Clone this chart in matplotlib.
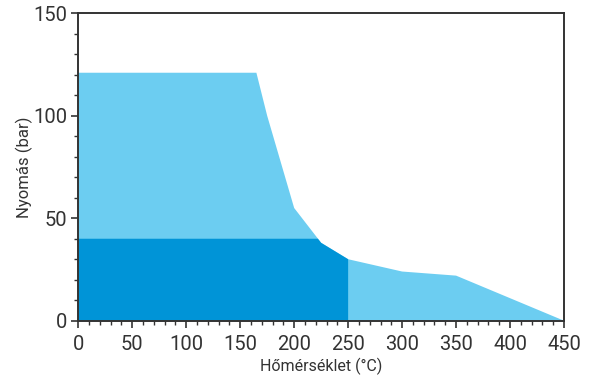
import matplotlib
matplotlib.use("Agg")
import matplotlib.pyplot as plt
from matplotlib.ticker import MultipleLocator

# Data
light_x = [0, 165, 175, 200, 225, 250, 300, 350, 450]
light_y = [121, 121, 100, 55, 38, 30, 24, 22, 0]
dark_x = [0, 222, 225, 250]
dark_y = [40, 40, 38, 30]

x_label = "Hőmérséklet (°C)"
y_label = "Nyomás (bar)"

light_color = "#6ccdf1"
dark_color = "#0094d7"

plt.rcParams["font.family"] = ["Roboto", "DejaVu Sans"]

fig = plt.figure(figsize=(6, 3.77), dpi=100)
ax = fig.add_axes([0.1305, 0.1493, 0.8095, 0.8154])

ax.fill(light_x + [light_x[-1], 0], light_y + [0, 0], color=light_color, lw=0)
ax.fill(dark_x + [dark_x[-1], 0], dark_y + [0, 0], color=dark_color, lw=0)

ax.set_xlim(0, 450)
ax.set_ylim(0, 150)
ax.xaxis.set_major_locator(MultipleLocator(50))
ax.xaxis.set_minor_locator(MultipleLocator(10))
ax.yaxis.set_major_locator(MultipleLocator(50))
ax.yaxis.set_minor_locator(MultipleLocator(10))

for s in ax.spines.values():
    s.set_color("#333333")
    s.set_linewidth(1.4)

ax.tick_params(which="major", direction="out", length=5, width=1.2, color="#333333",
               labelsize=14.5, labelcolor="#333333")
ax.tick_params(axis="x", which="major", pad=5)
ax.tick_params(axis="y", which="major", pad=3)
ax.tick_params(which="minor", direction="out", length=3, width=1.0, color="#333333")

ax.set_xlabel(x_label, fontsize=11.5, color="#333333", labelpad=3)
ax.set_ylabel(y_label, fontsize=12, color="#333333", labelpad=0)

fig.savefig("out.png", dpi=100)
